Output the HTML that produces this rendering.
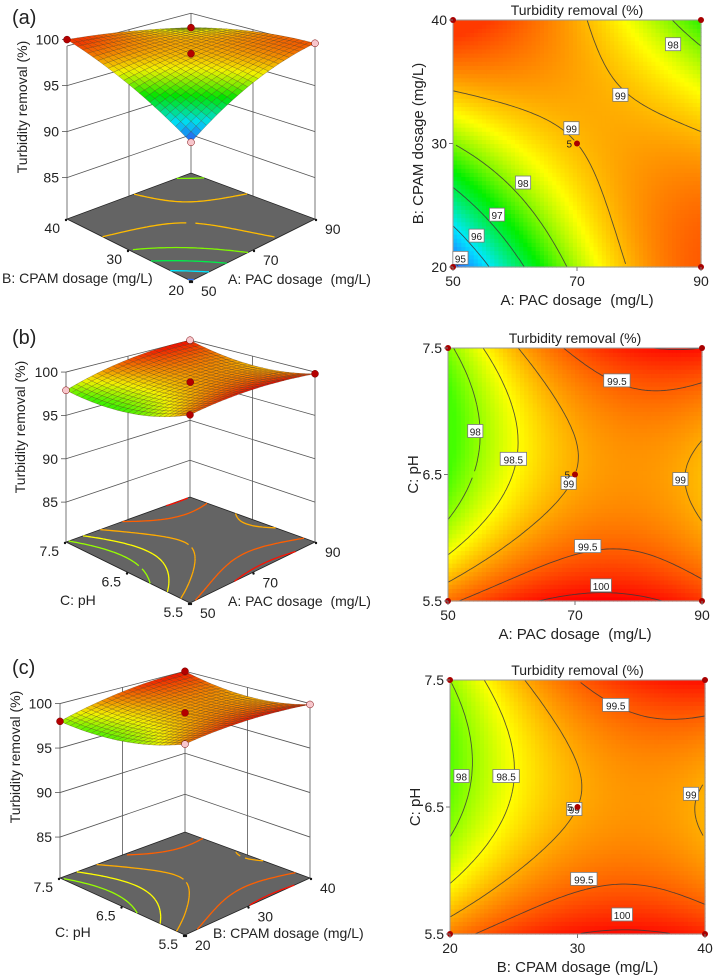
<!DOCTYPE html>
<html><head><meta charset="utf-8"><style>
html,body{margin:0;padding:0;background:#fff;}
svg{display:block;font-family:"Liberation Sans",sans-serif;}
text{fill:#222;}
</style></head><body>
<svg id="root" width="724" height="979" viewBox="0 0 724 979"></svg>
<script>
// ===== DATA (3x3 response grids, rows = second factor low->high, cols = first factor low->high) =====
const panelLetters = ["(a)", "(b)", "(c)"];
const aFactorA = [50, 70, 90];
const aFactorB = [20, 30, 40];
const aResponse = [[94.8, 98.2, 99.6], [98.0, 99.0, 99.1], [100.0, 99.1, 97.6]];
const bFactorA = [50, 70, 90];
const bFactorC = [5.5, 6.5, 7.5];
const bResponse = [[99.4, 100.1, 99.8], [97.6, 99.0, 98.9], [97.9, 99.6, 100.0]];
const cFactorB = [20, 30, 40];
const cFactorC = [5.5, 6.5, 7.5];
const cResponse = [[99.3, 100.0, 99.9], [97.8, 99.0, 98.95], [98.0, 99.5, 100.0]];
const aLevels = [95, 96, 97, 98, 99];
const bLevels = [98, 98.5, 99, 99.5, 100];
const cLevels = [98, 98.5, 99, 99.5, 100];
const zTicks = [85, 90, 95, 100];
const aColorVals = [94.8, 96.0, 97.4, 98.6, 99.2, 99.8];
const bcColorVals = [97.6, 98.5, 99.1, 99.6, 100.1];
// contour label anchors in data units: [level, x, y]
const aLabels = [[98, 85.5, 38.0], [99, 77.0, 33.9], [99, 69.1, 31.2], [98, 61.3, 26.8], [97, 57.1, 24.2], [96, 53.8, 22.5], [95, 51.2, 20.7]];
const bLabels = [[98, 54.3, 6.84], [98.5, 60.3, 6.62], [99, 69.0, 6.43], [99, 86.6, 6.46], [99.5, 76.6, 7.24], [99.5, 72.0, 5.93], [100, 74.1, 5.62]];
const cLabels = [[98, 20.9, 6.74], [98.5, 24.4, 6.74], [99, 29.75, 6.48], [99, 38.9, 6.6], [99.5, 33.0, 7.30], [99.5, 30.5, 5.93], [100, 33.5, 5.65]];

const aColors = ["#2d55ff", "#00e8ff", "#00f000", "#ffff00", "#ff9a00", "#ff3a00"];
const bcColors = ["#44ff00", "#ffff00", "#ff9a00", "#ff5000", "#ff0000"];

const NS = "http://www.w3.org/2000/svg";
const root = document.getElementById("root");
function mk(tag, parent) { const e = document.createElementNS(NS, tag); parent.appendChild(e); return e; }
function at(e, o) { for (const k in o) e.setAttribute(k, o[k]); return e; }
function lag(x) { return [x * (x - 1) / 2, 1 - x * x, x * (x + 1) / 2]; }
function val(g, u, v) { const lx = lag(2 * u - 1), ly = lag(2 * v - 1); let s = 0; for (let i = 0; i < 3; i++) for (let j = 0; j < 3; j++) s += g[i][j] * ly[i] * lx[j]; return s; }
function hx(c) { return [parseInt(c.substr(1, 2), 16), parseInt(c.substr(3, 2), 16), parseInt(c.substr(5, 2), 16)]; }
function color(z, vals, cols, dark) {
  let k = 0; if (z <= vals[0]) k = 0; else if (z >= vals[vals.length - 1]) k = vals.length - 2; else { while (z > vals[k + 1]) k++; }
  let t = (z - vals[k]) / (vals[k + 1] - vals[k]); t = Math.max(0, Math.min(1, t));
  const a = hx(cols[k]), b = hx(cols[k + 1]); const m = dark || 1;
  return "rgb(" + [0, 1, 2].map(i => Math.round((a[i] + (b[i] - a[i]) * t) * m)).join(",") + ")";
}
function contourSegs(g, level, M, map) {
  const V = [];
  for (let i = 0; i <= M; i++) { V.push([]); for (let j = 0; j <= M; j++) V[i].push(val(g, j / M, i / M)); }
  let d = "";
  for (let i = 0; i < M; i++) for (let j = 0; j < M; j++) {
    const c = [[j, i, V[i][j]], [j + 1, i, V[i][j + 1]], [j + 1, i + 1, V[i + 1][j + 1]], [j, i + 1, V[i + 1][j]]];
    const pts = [];
    for (let e = 0; e < 4; e++) {
      const p = c[e], q = c[(e + 1) % 4];
      if ((p[2] - level) * (q[2] - level) < 0) { const t = (level - p[2]) / (q[2] - p[2]); pts.push([(p[0] + (q[0] - p[0]) * t) / M, (p[1] + (q[1] - p[1]) * t) / M]); }
    }
    for (let k = 0; k + 1 < pts.length; k += 2) { const A = map(pts[k][0], pts[k][1]), B = map(pts[k + 1][0], pts[k + 1][1]); d += "M" + A[0].toFixed(1) + " " + A[1].toFixed(1) + "L" + B[0].toFixed(1) + " " + B[1].toFixed(1); }
  }
  return d;
}
function txt(parent, x, y, s, size, anchor) { const t = mk("text", parent); at(t, { x: x, y: y, "font-size": size, "text-anchor": anchor || "start" }); t.textContent = s; return t; }

// ===== Contour panel =====
function drawContour(c) {
  const g = mk("g", root);
  
  
  const W = c.x1 - c.x0, H = c.y1 - c.y0;
  const X = u => c.x0 + u * W, Y = v => c.y1 - v * H;
  const hm = mk("g", g);
  
  
  const N = 60;
  for (let i = 0; i < N; i++) for (let j = 0; j < N; j++) {
    const r = mk("rect", hm);
    at(r, { x: (X(j / N)).toFixed(2), y: (Y((i + 1) / N)).toFixed(2), width: (W / N + 0.6).toFixed(2), height: (H / N + 0.6).toFixed(2), fill: color(val(c.grid, (j + 0.5) / N, (i + 0.5) / N), c.cv, c.cc) });
  }
  for (const lv of c.levels) {
    const p = mk("path", g);
    
    
    at(p, { d: contourSegs(c.grid, lv, 80, (u, v) => [X(u), Y(v)]), stroke: "#3a3a3a", "stroke-width": 0.9, fill: "none", "stroke-opacity": 0.85 });
  }
  const bd = mk("rect", g);
  
  
  at(bd, { x: c.x0, y: c.y0, width: W, height: H, fill: "none", stroke: "#999", "stroke-width": 1 });
  const xs = c.xs, ys = c.ys;
  for (const L of c.labels) {
    const u = (L[1] - xs[0]) / (xs[2] - xs[0]), v = (L[2] - ys[0]) / (ys[2] - ys[0]);
    const s = String(L[0]); const w = s.length * 5.6 + 4;
    const lb = mk("g", g);
    
    
    at(mk("rect", lb), { x: X(u) - w / 2, y: Y(v) - 7, width: w, height: 13, fill: "#fff", stroke: "#777", "stroke-width": 0.8 });
    txt(lb, X(u), Y(v) + 4, s, 10, "middle");
  }
  const pts = [[0, 0], [1, 0], [0, 1], [1, 1], [0.5, 0.5]];
  for (const p of pts) {
    const d = mk("circle", g);
    
    
    at(d, { cx: X(p[0]), cy: Y(p[1]), r: 3, fill: "#a80000" });
  }
  txt(g, X(0.5) - 5, Y(0.5) + 4, "5", 10, "end");
  for (let k = 0; k < 3; k++) {
    const t = txt(g, X(k / 2), c.y1 + 19, String(xs[k]), 14, "middle");
    
    
    at(mk("line", g), { x1: X(k / 2), x2: X(k / 2), y1: c.y1, y2: c.y1 + 4, stroke: "#777" });
    const t2 = txt(g, c.x0 - 6, Y(k / 2) + 5, String(ys[k]), 14, "end");
    
    
    at(mk("line", g), { x1: c.x0 - 4, x2: c.x0, y1: Y(k / 2), y2: Y(k / 2), stroke: "#777" });
  }
  const tt = txt(g, (c.x0 + c.x1) / 2, c.y0 - 5, "Turbidity removal (%)", 14, "middle");
  
  
  const xt = txt(g, (c.x0 + c.x1) / 2, c.y1 + 38, c.xlabel, 15, "middle");
  
  
  xt.setAttribute('style', 'white-space:pre');
  const yt = txt(g, 0, 0, c.ylabel, 15, "middle");
  
  
  at(yt, { transform: "translate(" + (c.x0 - 30) + "," + ((c.y0 + c.y1) / 2) + ") rotate(-90)" });
}

// ===== 3D surface panel =====
function draw3D(c) {
  const g = mk("g", root);
  
  
  const F = c.F, L = c.L, R = c.R, B = c.B;
  function P(u, v, z) {
    const w = [(1 - u) * (1 - v), u * (1 - v), (1 - u) * v, u * v];
    const x = F[0] * w[0] + R[0] * w[1] + L[0] * w[2] + B[0] * w[3];
    const y = F[1] * w[0] + R[1] * w[1] + L[1] * w[2] + B[1] * w[3];
    const s = c.s[0] * w[0] + c.s[1] * w[1] + c.s[2] * w[2] + c.s[3] * w[3];
    return [x, y - (z - c.zf) * s];
  }
  const wall = mk("g", g);
  
  
  const ln = (a, b, col) => at(mk("line", wall), { x1: a[0], y1: a[1], x2: b[0], y2: b[1], stroke: col || "#555", "stroke-width": 0.8 });
  for (const z of zTicks.slice(0, 3).concat([c.ztop])) {
    ln(P(0, 1, z), P(1, 1, z)); ln(P(1, 1, z), P(1, 0, z));
  }
  for (const q of [[0, 1], [0.5, 1], [1, 1], [1, 0.5], [1, 0]]) ln(P(q[0], q[1], c.zf), P(q[0], q[1], c.ztop));
  for (const z of zTicks) {
    const p = P(0, 1, z);
    ln([p[0] - 5, p[1]], p);
    const t = txt(g, p[0] - 8, p[1] + 5, String(z), 14, "end");
    
    
  }
  const fl = mk("polygon", g);
  
  
  at(fl, { points: [P(0, 0, c.zf), P(1, 0, c.zf), P(1, 1, c.zf), P(0, 1, c.zf)].map(p => p.join(",")).join(" "), fill: "#646464", stroke: "#222", "stroke-width": 0.8 });
  for (const lv of c.levels) {
    const p = mk("path", g);
    
    
    at(p, { d: contourSegs(c.grid, lv, 50, (u, v) => P(u, v, c.zf)), stroke: color(lv, c.cv, c.cc), "stroke-width": 1.3, fill: "none" });
  }
  for (let k = 0; k < 3; k++) {
    const pl = P(0, k / 2, c.zf);
    const t = txt(g, pl[0] - 7, pl[1] + 14, String(c.vs[k]), 14, "end");
    
    
    at(mk("circle", g), { cx: pl[0] - 1, cy: pl[1] + 1, r: 1.2, fill: "#111" });
    const pr = P(k / 2, 0, c.zf);
    const t2 = txt(g, pr[0] + 10, pr[1] + 15, String(c.us[k]), 14, "start");
    
    
    at(mk("circle", g), { cx: pr[0] + 1, cy: pr[1] + 1, r: 1.2, fill: "#111" });
  }
  const sg = mk("g", g);
  
  
  const N = 24, quads = [];
  for (let i = 0; i < N; i++) for (let j = 0; j < N; j++) quads.push([i, j]);
  quads.sort((a, b) => (b[0] + b[1]) - (a[0] + a[1]));
  for (const q of quads) {
    const u0 = q[1] / N, u1 = (q[1] + 1) / N, v0 = q[0] / N, v1 = (q[0] + 1) / N;
    const pts = [[u0, v0], [u1, v0], [u1, v1], [u0, v1]].map(p => P(p[0], p[1], val(c.grid, p[0], p[1])));
    const z = val(c.grid, (u0 + u1) / 2, (v0 + v1) / 2);
    at(mk("polygon", sg), { points: pts.map(p => p[0].toFixed(1) + "," + p[1].toFixed(1)).join(" "), fill: color(z, c.cv, c.cc, 0.95), stroke: "rgba(70,50,20,0.45)", "stroke-width": 0.5 });
  }
  const dots = [[0, 0], [1, 0], [0, 1], [1, 1], [0.5, 0.5]];
  for (let k = 0; k < dots.length; k++) {
    const d = dots[k];
    const p = P(d[0], d[1], val(c.grid, d[0], d[1]));
    const ci = mk("circle", g);
    
    
    at(ci, { cx: p[0], cy: p[1], r: 3.5, fill: c.pink.indexOf(k) >= 0 ? "#f7c6cc" : "#b40000", stroke: "#700", "stroke-width": 0.5 });
  }
  const lt = txt(g, 12, c.letterY, c.letter, 20, "start");
  
  
  const yt = txt(g, 0, 0, "Turbidity removal (%)", 14, "middle");
  
  
  at(yt, { transform: "translate(" + c.ytx + "," + c.yty + ") rotate(-90)" });
  const a1 = txt(g, c.lx, F[1] + 2, c.leftTitle, 14, "start");
  
  
  const a2 = txt(g, c.rx, F[1] + 3, c.rightTitle, 14, "start");
  
  
  a2.setAttribute('style', 'white-space:pre');
}

draw3D({ name: "surface-plot-a", grid: aResponse, cv: aColorVals, cc: aColors, levels: aLevels, F: [191, 281], L: [67, 219], R: [315, 219], B: [191, 173], s: [9.7, 9.2, 9.2, 8.5], zf: 80.5, ztop: 99.3, us: aFactorA, vs: aFactorB, pink: [0, 1], letter: panelLetters[0], letterY: 24, ytx: 27, yty: 107, lx: 2, rx: 228, leftTitle: "B: CPAM dosage (mg/L)", rightTitle: "A: PAC dosage  (mg/L)" });
draw3D({ name: "surface-plot-b", grid: bResponse, cv: bcColorVals, cc: bcColors, levels: bLevels, F: [190, 603], L: [66, 542], R: [315, 542], B: [190, 497], s: [9.9, 8.67, 8.67, 8.0], zf: 80.4, ztop: 100, us: bFactorA, vs: bFactorC, pink: [2, 3], letter: panelLetters[1], letterY: 344, ytx: 25, yty: 427, lx: 60, rx: 228, leftTitle: "C: pH", rightTitle: "A: PAC dosage  (mg/L)" });
draw3D({ name: "surface-plot-c", grid: cResponse, cv: bcColorVals, cc: bcColors, levels: cLevels, F: [185, 935], L: [60, 878], R: [310, 878], B: [185, 832], s: [10.1, 8.9, 8.9, 8.2], zf: 80.4, ztop: 100, us: cFactorB, vs: cFactorC, pink: [0, 1], letter: panelLetters[2], letterY: 674, ytx: 20, yty: 757, lx: 55, rx: 213, leftTitle: "C: pH", rightTitle: "B: CPAM dosage (mg/L)" });

drawContour({ name: "contour-plot-a", grid: aResponse, cv: aColorVals, cc: aColors, levels: aLevels, labels: aLabels, x0: 453, x1: 701, y0: 20, y1: 267, xs: aFactorA, ys: aFactorB, xlabel: "A: PAC dosage  (mg/L)", ylabel: "B: CPAM dosage (mg/L)" });
drawContour({ name: "contour-plot-b", grid: bResponse, cv: bcColorVals, cc: bcColors, levels: bLevels, labels: bLabels, x0: 448, x1: 702, y0: 348, y1: 601, xs: bFactorA, ys: bFactorC, xlabel: "A: PAC dosage  (mg/L)", ylabel: "C: pH" });
drawContour({ name: "contour-plot-c", grid: cResponse, cv: bcColorVals, cc: bcColors, levels: cLevels, labels: cLabels, x0: 450, x1: 705, y0: 680, y1: 934, xs: cFactorB, ys: cFactorC, xlabel: "B: CPAM dosage (mg/L)", ylabel: "C: pH" });
</script>
</body></html>
